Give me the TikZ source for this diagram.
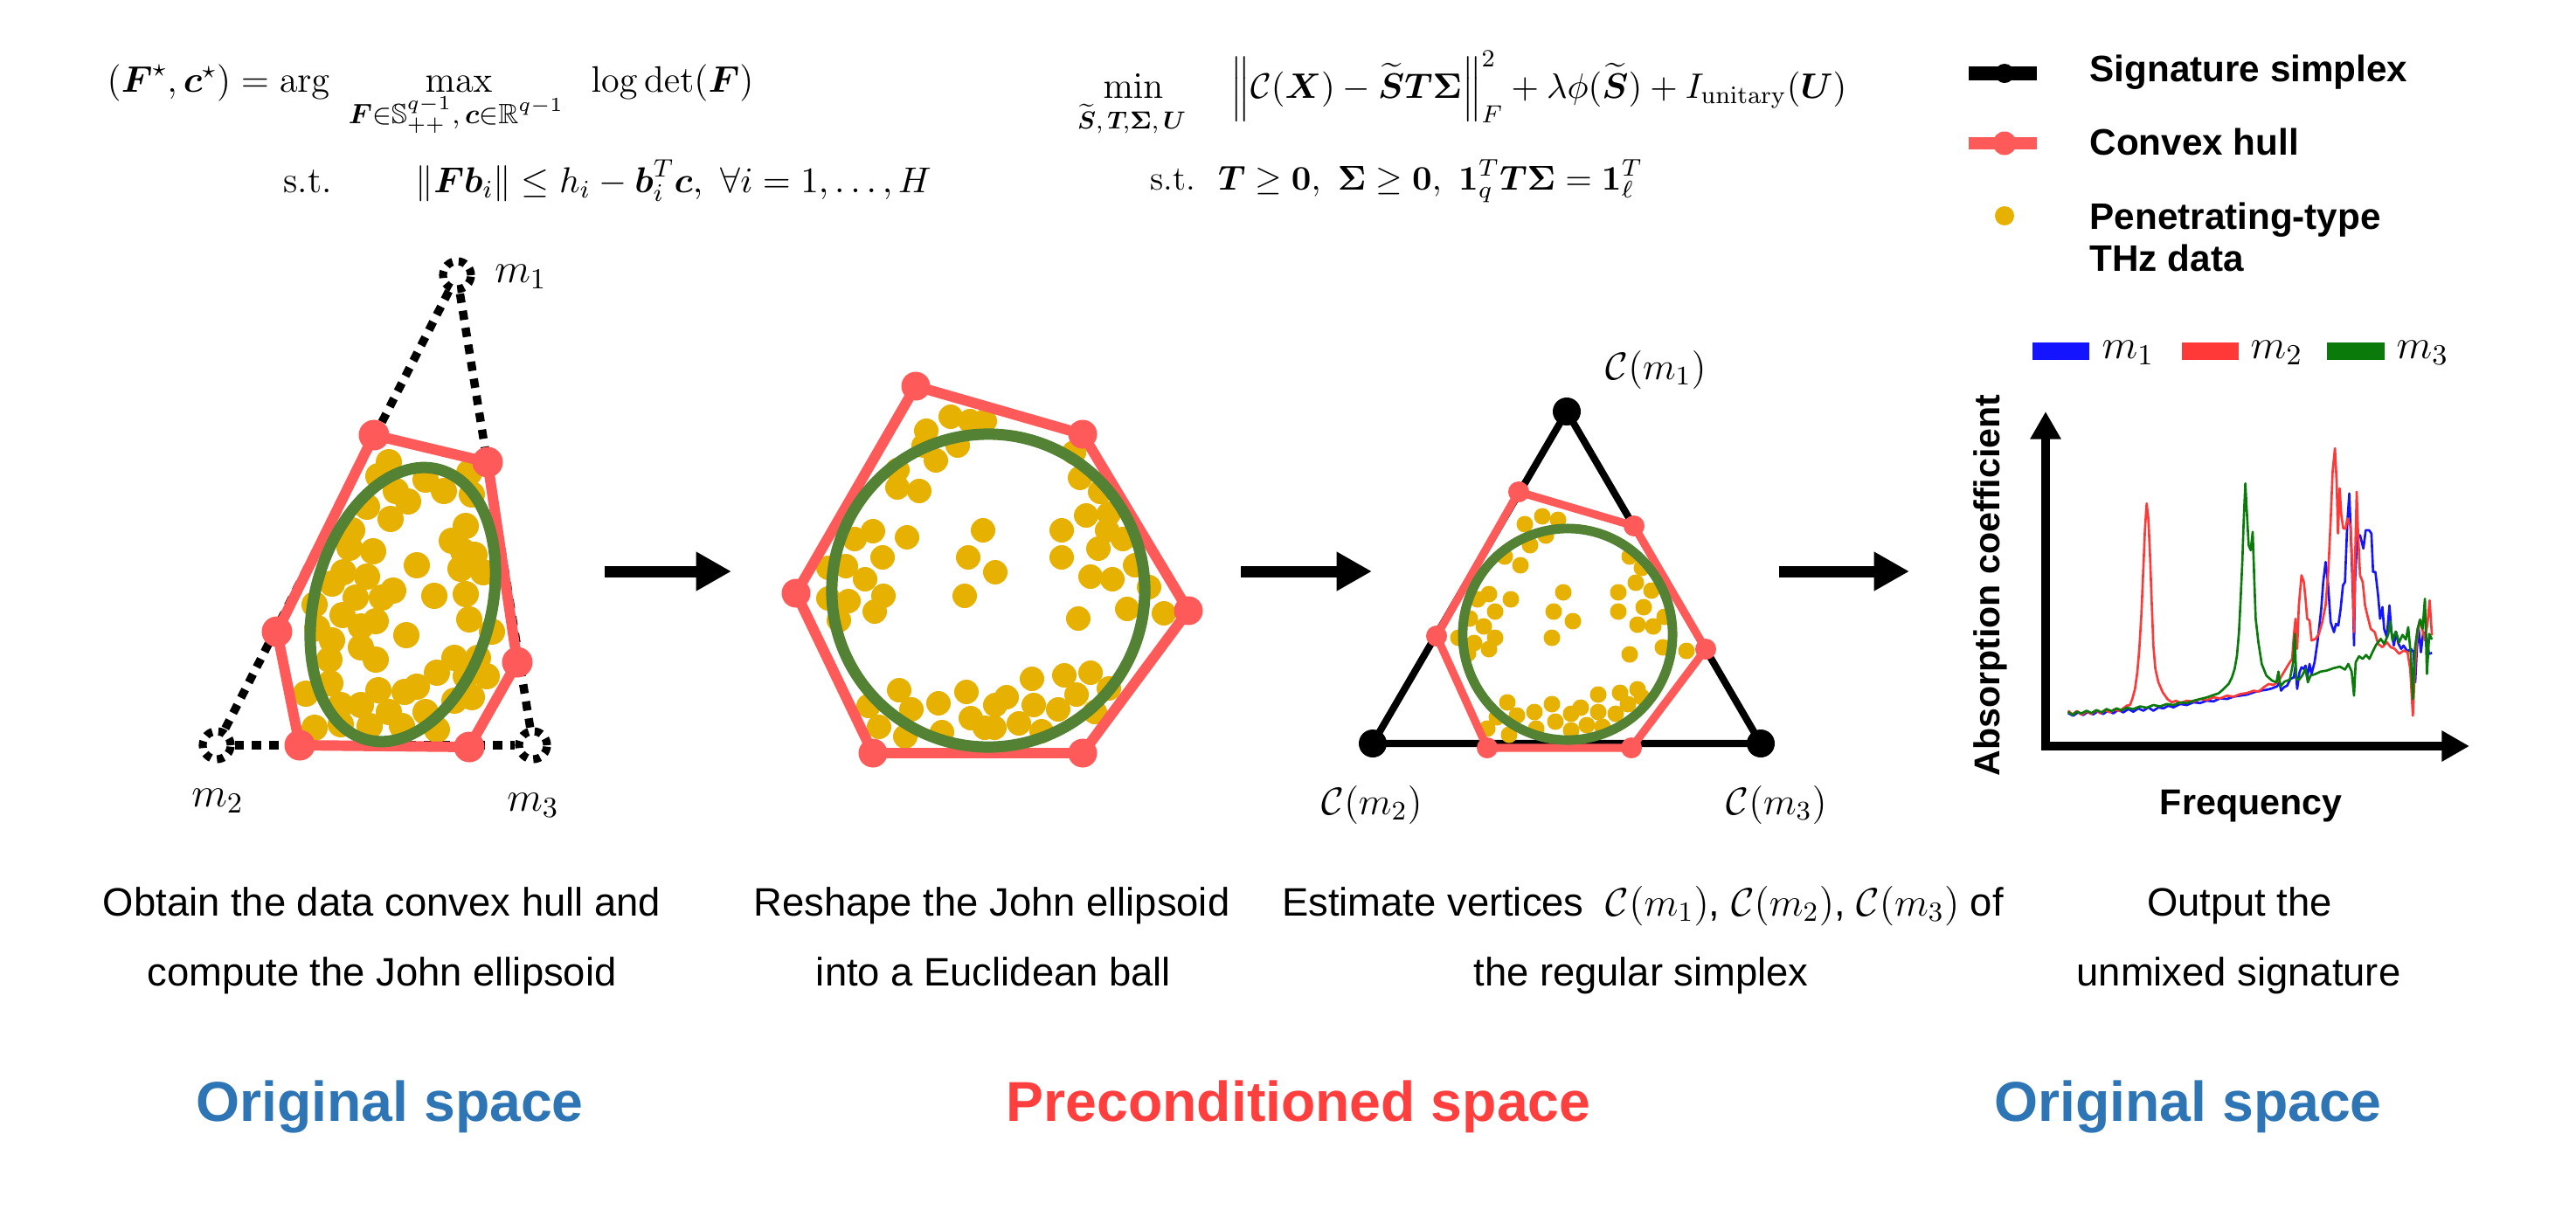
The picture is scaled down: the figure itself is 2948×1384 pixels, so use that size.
\documentclass[tikz,border=0pt]{standalone}
\usepackage{fix-cm}
\usepackage{amsmath,amssymb}
\usepackage[no-math]{fontspec}
\newfontfamily\arial{Liberation Sans}
\usetikzlibrary{arrows.meta}
\definecolor{hullred}{RGB}{255,90,90}
\definecolor{jgreen}{RGB}{84,130,53}
\definecolor{dotyel}{RGB}{230,177,0}
\definecolor{origblue}{RGB}{46,117,182}
\definecolor{precred}{RGB}{255,62,62}
\definecolor{sblue}{RGB}{20,20,255}
\definecolor{sred}{RGB}{255,56,56}
\definecolor{sgreen}{RGB}{10,122,10}
\begin{document}
\begin{tikzpicture}[x=0.01cm,y=-0.01cm,
  capt/.style={font=\arial\fontsize{12.9}{15}\selectfont, anchor=base, inner sep=0pt},
  spacelbl/.style={font=\arial\bfseries\fontsize{18.3}{22}\selectfont, anchor=base, inner sep=0pt},
  legtxt/.style={font=\arial\bfseries\fontsize{12}{14}\selectfont, anchor=base west, inner sep=0pt},
  axtxt/.style={font=\arial\bfseries\fontsize{11.7}{14}\selectfont, anchor=base, inner sep=0pt},
  mlbl/.style={font=\fontsize{13.5}{16}\selectfont, inner sep=0pt},
  clbl/.style={font=\fontsize{12.5}{15}\selectfont, inner sep=0pt},
  fml/.style={font=\fontsize{12}{14}\selectfont, inner sep=0pt, anchor=base west},
  dotline/.style={line width=2.7pt, dash pattern=on 3pt off 2.6pt},
  dotcirc/.style={circle, draw, line width=2.6pt, dash pattern=on 2.3pt off 2pt, minimum size=0.32cm, inner sep=0pt},
  hullA/.style={hullred, line width=3.4pt, line join=round},
  hullC/.style={hullred, line width=2.6pt, line join=round},
  jA/.style={jgreen, line width=3.7pt},
  jC/.style={jgreen, line width=3.1pt},
  bigarrow/.style={line width=3.7pt, -{Triangle[length=11.5pt,width=12pt]}},
  spec/.style={line width=0.75pt, line join=round}
]
\path[use as bounding box, fill=white] (0,0) rectangle (2948,1384);

% ---------------- formulas ----------------
\node[fml] (f1a) at (122,105) {$(\boldsymbol{F}^{\star},\boldsymbol{c}^{\star})=\arg$};
\node[fml, anchor=base] (f1b) at (525,105) {$\max$};
\node[fml, anchor=base, font=\fontsize{13}{15}\selectfont] (f1c) at (522,141) {$\scriptstyle\boldsymbol{F}\in\mathbb{S}^{q-1}_{++},\,\boldsymbol{c}\in\mathbb{R}^{q-1}$};
\node[fml] (f1d) at (676,105) {$\log\det(\boldsymbol{F})$};
\node[fml] (f1e) at (324,220) {s.t.};
\node[fml, font=\fontsize{11.7}{14}\selectfont] (f1f) at (475,220) {$\|\boldsymbol{F}\boldsymbol{b}_i\|\leq h_i-\boldsymbol{b}_i^T\boldsymbol{c},\ \forall i=1,\ldots,H$};

\node[fml, anchor=base] (f2a) at (1297,112) {$\min$};
\node[fml, anchor=base] (f2b) at (1295,147) {$\scriptstyle\widetilde{\boldsymbol{S}},\,\boldsymbol{T}\!,\boldsymbol{\Sigma},\,\boldsymbol{U}$};
\node[fml, font=\fontsize{11.5}{14}\selectfont] (f2c) at (1408,112) {$\Big\|\mathcal{C}(\boldsymbol{X})-\widetilde{\boldsymbol{S}}\boldsymbol{T}\boldsymbol{\Sigma}\Big\|_F^2+\lambda\phi(\widetilde{\boldsymbol{S}})+I_{\mathrm{unitary}}(\boldsymbol{U})$};
\node[fml, font=\fontsize{11.2}{14}\selectfont] (f2d) at (1316,217) {s.t.\ \ $\boldsymbol{T}\geq\boldsymbol{0},\ \boldsymbol{\Sigma}\geq\boldsymbol{0},\ \boldsymbol{1}_q^T\boldsymbol{T}\boldsymbol{\Sigma}=\boldsymbol{1}_\ell^T$};

% ---------------- legend ----------------
\coordinate (lb1) at (2253,84); \coordinate (lb2) at (2331,84);
\draw[line width=4.3pt] (lb1) -- (lb2);
\fill (2294,84) circle[radius=0.11cm];
\node[legtxt] (lt1) at (2391,93) {Signature simplex};
\coordinate (lr1) at (2253,164); \coordinate (lr2) at (2331,164);
\draw[hullred, line width=4.1pt] (lr1) -- (lr2);
\fill[hullred] (2294,164) circle[radius=0.135cm];
\node[legtxt] (lt2) at (2391,177) {Convex hull};
\fill[dotyel] (2294,247) circle[radius=0.11cm];
\node[legtxt] (lt3) at (2391,262) {Penetrating-type};
\node[legtxt] (lt4) at (2391,310) {THz data};

% ---------------- panel 1 ----------------
\node[dotcirc] (m1) at (523,315) {};
\node[dotcirc] (m2) at (248,853) {};
\node[dotcirc] (m3) at (610,853) {};
\draw[dotline] (m1) -- (m2);
\draw[dotline] (m2) -- (m3);
\draw[dotline] (m3) -- (m1);
\node[mlbl] (lm1) at (596,317) {$m_1$};
\node[mlbl] (lm2) at (249,917) {$m_2$};
\node[mlbl] (lm3) at (610,922) {$m_3$};

\foreach \x/\y in {445/529, 433/545, 420/580, 447/594, 467/574, 453/562, 487/549, 508/562, 537/541, 540/566, 533/602, 517/619, 530/631, 543/635, 527/651, 553/655, 533/680, 537/709, 563/723, 477/647, 497/682, 465/727, 450/676, 437/684, 427/631, 420/660, 403/607, 400/627, 393/655, 380/668, 407/684, 392/704, 360/692, 363/719, 380/733, 413/717, 430/711, 413/741, 430/755, 377/755, 378/782, 350/794, 360/833, 390/807, 390/829, 413/807, 423/831, 433/790, 445/815, 463/792, 460/831, 477/786, 487/815, 500/770, 520/753, 547/753, 557/774, 533/774, 540/798, 520/802, 500/835}
  \fill[dotyel] (\x,\y) circle[radius=0.15cm];

\coordinate (a1) at (428,498); \coordinate (a2) at (558,529); \coordinate (a3) at (592,758);
\coordinate (a4) at (537,855); \coordinate (a5) at (343,853); \coordinate (a6) at (317,723);
\draw[hullA] (a1) -- (a2) -- (a3) -- (a4) -- (a5) -- (a6) -- cycle;
\foreach \v in {a1,a2,a3,a4,a5,a6} \fill[hullred] (\v) circle[radius=0.175cm];
\coordinate (e1) at (461,692);
\draw[jA, rotate around={-15:(e1)}] (e1) ellipse [x radius=1.01cm, y radius=1.6cm];

% ---------------- panel 2 ----------------
\foreach \x/\y in {1088/477, 1110/482, 1127/482, 1060/493, 1057/510, 1096/510, 1071/527, 1027/538, 1027/558, 1052/562, 1229/518, 1236/547, 1259/563, 1243/590, 1269/588, 1267/607, 1285/617, 1257/628, 1215/607, 1215/638, 1248/660, 1273/663, 1299/647, 1315/672, 1290/697, 1332/702, 1234/708, 1125/607, 1108/638, 1139/655, 1104/682, 1038/615, 999/608, 978/617, 1010/638, 968/648, 948/650, 990/663, 1011/682, 971/688, 1001/700, 948/685, 960/710, 1029/790, 994/808, 1043/812, 1074/805, 1006/832, 1036/843, 1078/838, 1106/792, 1111/822, 1127/833, 1138/833, 1139/807, 1152/798, 1166/828, 1181/777, 1183/807, 1192/837, 1211/812, 1218/773, 1232/795, 1248/770, 1269/788, 1253/815}
  \fill[dotyel] (\x,\y) circle[radius=0.14cm];
\coordinate (b1) at (1048,442); \coordinate (b2) at (1239,497); \coordinate (b3) at (1360,699);
\coordinate (b4) at (1239,862); \coordinate (b5) at (999,862); \coordinate (b6) at (911,679);
\draw[hullA] (b1) -- (b2) -- (b3) -- (b4) -- (b5) -- (b6) -- cycle;
\foreach \v in {b1,b2,b3,b4,b5,b6} \fill[hullred] (\v) circle[radius=0.165cm];
\coordinate (e2) at (1131,676);
\draw[jA] (e2) circle[radius=1.79cm];

% ---------------- panel 3 ----------------
\coordinate (t1) at (1793,471); \coordinate (t2) at (1571,851); \coordinate (t3) at (2015,851);
\draw[line width=2.3pt, line join=round] (t1) -- (t2) -- (t3) -- cycle;
\foreach \x/\y in {1745/600, 1765/591, 1783/595, 1769/613, 1751/624, 1722/637, 1740/647, 1865/637, 1879/650, 1872/667, 1890/676, 1852/678, 1852/700, 1881/695, 1905/706, 1874/715, 1892/717, 1865/749, 1903/741, 1930/745, 1704/680, 1691/686, 1729/686, 1711/700, 1682/708, 1698/717, 1711/730, 1687/736, 1704/743, 1669/730, 1680/748, 1789/678, 1778/700, 1800/711, 1776/730, 1725/804, 1713/821, 1736/819, 1756/815, 1776/806, 1780/826, 1798/817, 1809/810, 1829/795, 1829/815, 1854/793, 1874/789, 1849/817, 1863/806, 1816/830, 1834/832, 1758/834, 1798/836, 1727/841, 1702/834, 1879/798}
  \fill[dotyel] (\x,\y) circle[radius=0.095cm];
\coordinate (p1) at (1738,563); \coordinate (p2) at (1870,602); \coordinate (p3) at (1952,743);
\coordinate (p4) at (1867,856); \coordinate (p5) at (1702,856); \coordinate (p6) at (1644,728);
\draw[hullC] (p1) -- (p2) -- (p3) -- (p4) -- (p5) -- (p6) -- cycle;
\foreach \v in {p1,p2,p3,p4,p5,p6} \fill[hullred] (\v) circle[radius=0.12cm];
\coordinate (e3) at (1794,726);
\draw[jC] (e3) ellipse [x radius=1.2cm, y radius=1.21cm];
\foreach \v in {t1,t2,t3} \fill (\v) circle[radius=0.16cm];
\node[clbl] (cm1) at (1895,423) {$\mathcal{C}(m_1)$};
\node[clbl] (cm2) at (1570,921) {$\mathcal{C}(m_2)$};
\node[clbl] (cm3) at (2033,921) {$\mathcal{C}(m_3)$};

% ---------------- arrows ----------------
\coordinate (r1s) at (692,654); \coordinate (r1e) at (837,654);
\coordinate (r2s) at (1420,654); \coordinate (r2e) at (1570,654);
\coordinate (r3s) at (2036,654); \coordinate (r3e) at (2185,654);
\draw[bigarrow] (r1s) -- (r1e);
\draw[bigarrow] (r2s) -- (r2e);
\draw[bigarrow] (r3s) -- (r3e);

% ---------------- panel 4: plot ----------------
\coordinate (k1a) at (2326,402); \coordinate (k1b) at (2391,402);
\coordinate (k2a) at (2497,402); \coordinate (k2b) at (2562,402);
\coordinate (k3a) at (2663,402); \coordinate (k3b) at (2729,402);
\draw[sblue, line width=5.7pt] (k1a) -- (k1b);
\draw[sred, line width=5.7pt] (k2a) -- (k2b);
\draw[sgreen, line width=5.7pt] (k3a) -- (k3b);
\node[mlbl, anchor=base west] (km1) at (2405,410) {$m_1$};
\node[mlbl, anchor=base west] (km2) at (2575,410) {$m_2$};
\node[mlbl, anchor=base west] (km3) at (2742,410) {$m_3$};

\begin{scope}[shift={(2250,360)}, scale=0.3827]
\draw[sblue, spec] plot coordinates {(305,1192) (320,1200) (335,1190) (350,1198) (365,1188) (380,1196) (395,1186) (410,1195) (425,1184) (440,1193) (455,1182) (470,1190) (485,1180) (500,1188) (515,1178) (530,1185) (545,1175) (560,1185) (575,1175) (590,1178) (605,1170) (620,1175) (640,1165) (660,1168) (680,1160) (700,1162) (720,1155) (740,1157) (760,1148) (780,1150) (800,1143) (820,1140) (840,1137) (860,1130) (880,1125) (900,1122) (915,1118) (930,1112) (937,1100) (942,1125) (950,1115) (960,1110) (970,1090) (980,1085) (985,1050) (990,1120) (997,1070) (1003,1055) (1010,1060) (1015,1050) (1020,1085) (1027,1045) (1033,1075) (1042,1040) (1052,970) (1062,880) (1068,800) (1075,740) (1082,800) (1090,920) (1100,950) (1106,925) (1113,930) (1120,880) (1127,810) (1133,800) (1140,620) (1146,535) (1152,700) (1157,850) (1160,990) (1163,800) (1170,660) (1178,660) (1188,700) (1195,645) (1205,645) (1212,655) (1217,770) (1224,770) (1232,840) (1238,910) (1245,875) (1250,940) (1258,965) (1266,870) (1272,950) (1279,990) (1286,950) (1293,985) (1301,1000) (1308,990) (1320,1008) (1330,1000) (1338,1010) (1343,1100) (1348,1000) (1353,935) (1360,1010) (1367,950) (1375,955) (1384,1015) (1393,1012)};
\draw[sred, spec] plot coordinates {(305,1185) (318,1196) (332,1186) (346,1197) (360,1187) (374,1195) (388,1184) (402,1193) (416,1183) (430,1190) (444,1181) (458,1186) (470,1178) (480,1170) (490,1168) (497,1150) (505,1120) (512,1070) (518,1000) (524,900) (530,760) (535,640) (540,565) (545,610) (550,720) (555,860) (560,990) (566,1060) (575,1100) (588,1130) (602,1150) (615,1160) (628,1155) (640,1162) (660,1155) (680,1158) (700,1150) (720,1153) (740,1145) (760,1148) (780,1140) (800,1143) (820,1135) (840,1132) (860,1125) (875,1128) (890,1115) (905,1105) (920,1108) (935,1095) (950,1070) (965,1045) (975,1030) (980,960) (985,910) (990,1000) (995,870) (1003,780) (1010,800) (1015,850) (1020,910) (1027,915) (1033,975) (1045,970) (1055,955) (1065,920) (1075,870) (1083,770) (1090,620) (1096,470) (1103,400) (1108,500) (1112,655) (1117,520) (1122,600) (1128,640) (1135,640) (1140,610) (1150,635) (1156,780) (1160,950) (1164,700) (1168,530) (1172,650) (1178,780) (1186,800) (1193,870) (1200,900) (1210,940) (1222,950) (1232,985) (1245,995) (1258,980) (1270,995) (1282,1000) (1295,1015) (1308,1005) (1320,1010) (1328,1060) (1336,1200) (1342,1060) (1348,970) (1356,915) (1364,940) (1372,975) (1380,920) (1386,855) (1393,960)};
\draw[sgreen, spec] plot coordinates {(305,1188) (318,1198) (330,1188) (345,1193) (360,1185) (375,1192) (390,1183) (405,1190) (420,1180) (435,1186) (450,1178) (465,1184) (480,1176) (500,1180) (520,1172) (540,1176) (560,1168) (580,1172) (600,1165) (620,1168) (640,1160) (660,1162) (680,1155) (700,1150) (720,1145) (740,1138) (755,1133) (770,1120) (785,1105) (795,1085) (803,1060) (810,1020) (816,950) (821,850) (826,740) (830,620) (835,505) (840,600) (845,690) (851,705) (857,650) (862,800) (866,910) (874,980) (884,1045) (898,1080) (915,1095) (928,1100) (934,1068) (940,1112) (952,1098) (968,1092) (978,1040) (983,955) (987,1090) (996,1092) (1005,1080) (1015,1060) (1022,1100) (1030,1080) (1045,1075) (1060,1068) (1078,1065) (1098,1058) (1118,1053) (1133,1062) (1143,1045) (1153,1068) (1160,1140) (1165,1040) (1175,1022) (1186,1030) (1196,1018) (1206,1030) (1216,1008) (1226,988) (1240,970) (1250,985) (1262,958) (1268,918) (1275,975) (1285,948) (1295,980) (1305,958) (1315,972) (1322,935) (1330,1020) (1336,1150) (1342,1000) (1350,940) (1358,912) (1365,940) (1372,850) (1378,1075) (1385,955) (1393,972)};
\end{scope}

\coordinate (ytip) at (2341,471); \coordinate (orig) at (2341,854); \coordinate (xtip) at (2826,854);
\draw[line width=3.1pt, line join=miter, {Triangle[length=9pt,width=9.5pt]}-{Triangle[length=9pt,width=9.5pt]}] (ytip) -- (orig) -- (xtip);
\node[axtxt, rotate=90] (ylab) at (2288,670) {Absorption coefficient};
\node[axtxt] (xlab) at (2576,932) {Frequency};

% ---------------- captions ----------------
\node[capt] (c1a) at (437,1048) {Obtain the data convex hull and};
\node[capt] (c1b) at (437,1128) {compute the John ellipsoid};
\node[capt] (c2a) at (1135,1048) {Reshape the John ellipsoid};
\node[capt] (c2b) at (1137,1128) {into a Euclidean ball};
\node[capt] (c3a) at (1880,1048) {Estimate vertices \ $\mathcal{C}(m_1)$, $\mathcal{C}(m_2)$, $\mathcal{C}(m_3)$ of};
\node[capt] (c3b) at (1878,1128) {the regular simplex};
\node[capt] (c4a) at (2563,1048) {Output the};
\node[capt] (c4b) at (2562,1128) {unmixed signature};

\node[spacelbl, text=origblue] (s1) at (446,1283) {Original space};
\node[spacelbl, text=precred] (s2) at (1486,1283) {Preconditioned space};
\node[spacelbl, text=origblue] (s3) at (2504,1283) {Original space};
\end{tikzpicture}
\end{document}
